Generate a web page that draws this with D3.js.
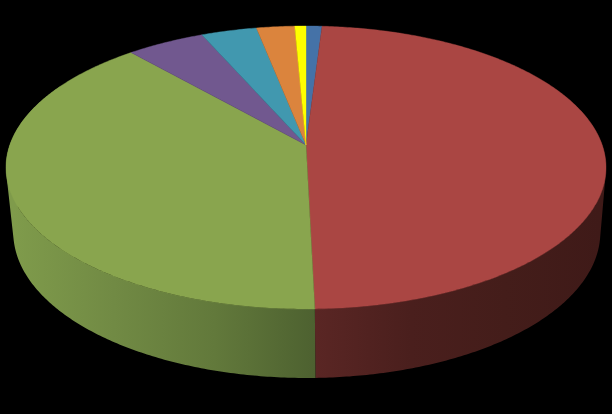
<!DOCTYPE html>
<html>
<head>
<meta charset="utf-8">
<script src="https://cdn.jsdelivr.net/npm/d3@7"></script>
<style>
    html, body { margin: 0; padding: 0; background: #000; }
    svg { display: block; }
</style>
</head>
<body>
<svg id="chart" width="612" height="414"></svg>
<script>
// shares in percent, clockwise from 12 o'clock
const categories = ["A", "B", "C", "D", "E", "F", "G"];
const values = [1.0, 48.6, 38.9, 4.9, 3.5, 2.4, 0.7];
const colors = ["#4572a7", "#aa4643", "#89a54e", "#71588f", "#4198af", "#db843d", "#ffff00"];

// side wall shades, left to right
const wall_shades = {
    B: ["#5a2624", "#4a1f1d", "#441d1a", "#3f1a18"],
    C: ["#7f9b4b", "#718a44", "#62793b", "#4d6130"]
};

const svg = d3.select("#chart");
const defs = svg.append("defs");

// perspective projection of the disc, u/v on the unit circle
const k = 0.159;
const top_face = { cx: 306, cy: 145, a: 296.2, b: 137.9 };
const bottom_face = { cx: 306.8, cy: 209.1, a: 289.8, b: 142 };

function project(face, r, angle) {
    let u = r * Math.sin(angle);
    let v = r * Math.cos(angle);
    let w = 1 + k * v;
    return [face.cx + face.a * u / w, face.cy - face.b * v / w];
}

function rim(face, a0, a1) {
    let n = Math.max(2, Math.ceil((a1 - a0) / 0.01));
    return d3.range(n + 1).map(i => project(face, 1, a0 + (a1 - a0) * i / n));
}

const pie = d3.pie().sort(null).startAngle(0).endAngle(2 * Math.PI);
const slices = pie(values);
const line = d3.line();

function wall_fill(d) {
    let name = categories[d.index];
    let shades = wall_shades[name];
    if (!shades) {
        return d3.color(colors[d.index]).darker(1.2);
    }
    let xs = rim(bottom_face, d.startAngle, d.endAngle).map(p => p[0]);
    let id = "wall-" + name;
    let grad = defs.append("linearGradient")
        .attr("id", id)
        .attr("gradientUnits", "userSpaceOnUse")
        .attr("x1", d3.min(xs))
        .attr("x2", d3.max(xs))
        .attr("y1", 0)
        .attr("y2", 0);
    grad.selectAll("stop")
        .data(shades)
        .enter()
        .append("stop")
        .attr("offset", (c, i) => i / (shades.length - 1))
        .attr("stop-color", c => c);
    return "url(#" + id + ")";
}

// side wall: only the near half of the disc shows
const near_from = Math.PI * 0.35;
const near_to = Math.PI * 1.65;

// one quad per rim step, all wound the same way or the folded ones cancel out
function wall_path(a0, a1) {
    let upper = rim(top_face, a0, a1);
    let lower = rim(bottom_face, a0, a1);
    return d3.range(upper.length - 1).map(function (i) {
        let quad = [upper[i], upper[i + 1], lower[i + 1], lower[i]];
        if (d3.polygonArea(quad) < 0) {
            quad.reverse();
        }
        return line(quad) + "Z";
    }).join("");
}

svg.selectAll(".wall")
    .data(slices.filter(d => d.endAngle > near_from && d.startAngle < near_to))
    .enter()
    .append("path")
    .attr("class", "wall")
    .attr("fill", wall_fill)
    .attr("stroke", "none")
    .attr("fill-rule", "nonzero")
    .attr("d", function (d) {
        return wall_path(Math.max(d.startAngle, near_from), Math.min(d.endAngle, near_to));
    });

// top face
svg.selectAll(".slice")
    .data(slices)
    .enter()
    .append("path")
    .attr("class", "slice")
    .attr("fill", d => colors[d.index])
    .attr("stroke", d => colors[d.index])
    .attr("stroke-width", 0.4)
    .attr("d", function (d) {
        let centre = project(top_face, 0, 0);
        return line([centre].concat(rim(top_face, d.startAngle, d.endAngle))) + "Z";
    });
</script>
</body>
</html>
